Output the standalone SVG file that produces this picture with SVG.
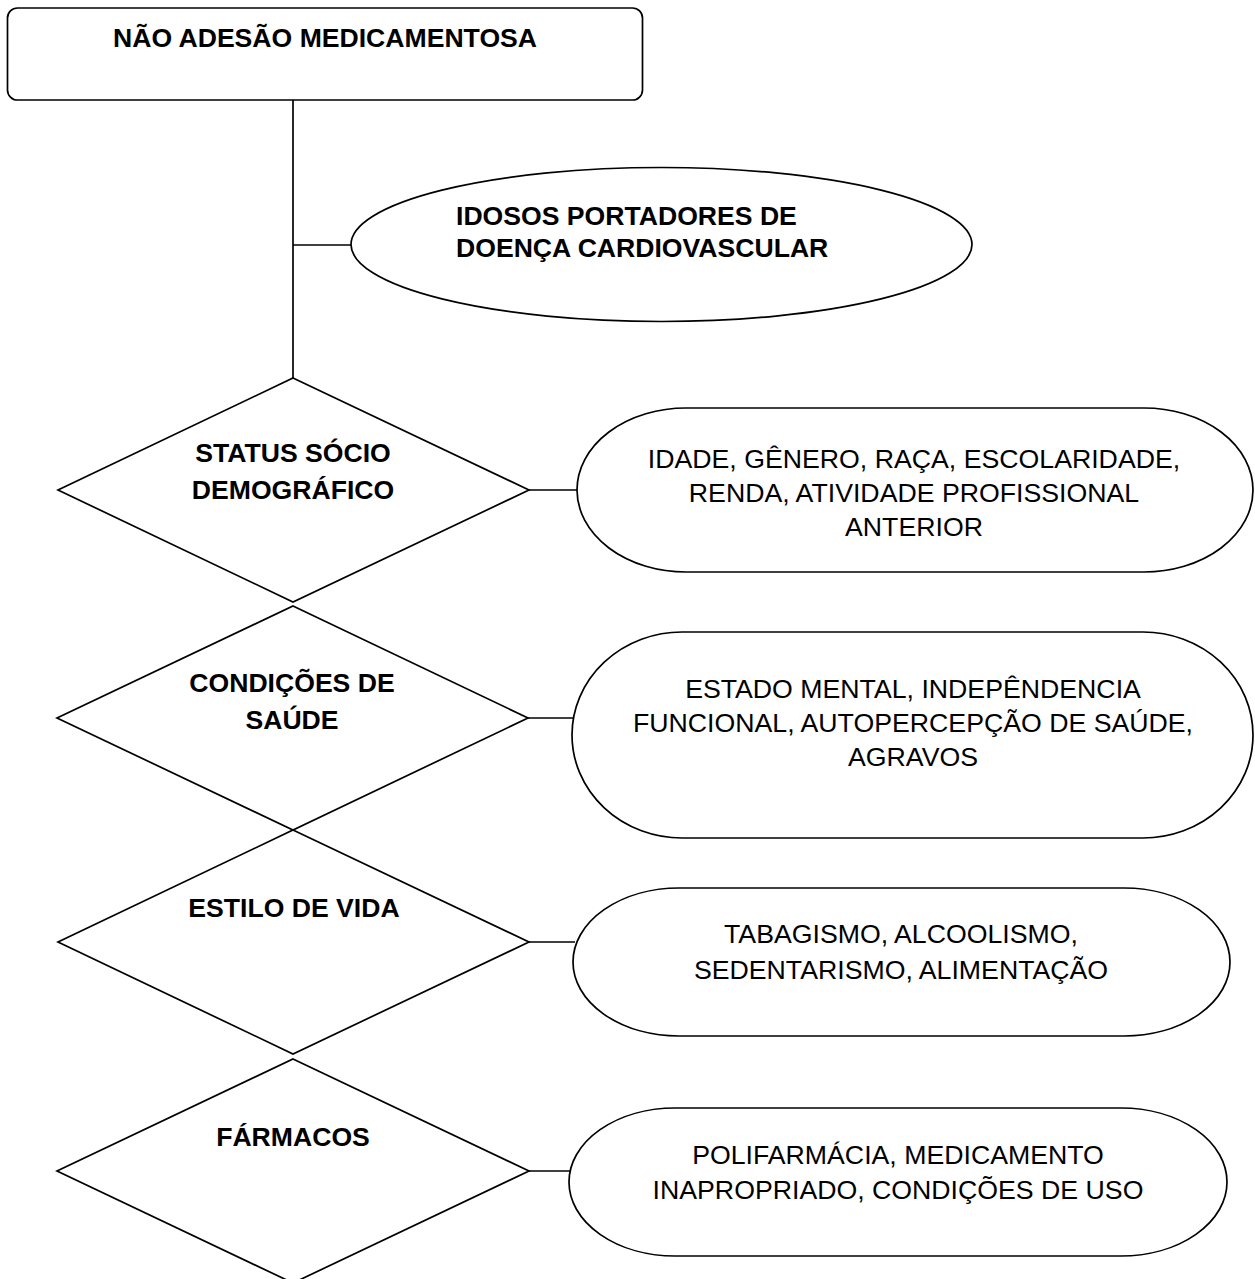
<svg xmlns="http://www.w3.org/2000/svg" width="1255" height="1279" viewBox="0 0 1255 1279">
<style>
.s{fill:#fff;stroke:#000;stroke-width:1.7}
.c{fill:none;stroke:#000;stroke-width:1.7}
.b{font-family:"Liberation Sans",Arial,sans-serif;font-size:26.6px;font-weight:bold;fill:#000}
.n{font-family:"Liberation Sans",Arial,sans-serif;font-size:26.7px;fill:#000;text-anchor:middle}
.m{text-anchor:middle}
</style>
<rect width="1255" height="1279" fill="#fff"/>
<g id="connectors">
<line class="c" x1="293" y1="100" x2="293" y2="378"/>
<line class="c" x1="293" y1="245" x2="351" y2="245"/>
<line class="c" x1="529" y1="490" x2="577" y2="490"/>
<line class="c" x1="528" y1="718" x2="573" y2="718"/>
<line class="c" x1="529" y1="942" x2="575" y2="942"/>
<line class="c" x1="529" y1="1171" x2="571" y2="1171"/>
</g>
<g id="n-nao-adesao">
<rect class="s" x="7.5" y="8" width="635" height="92" rx="10" ry="10"/>
<text class="b m" x="325" y="47">NÃO ADESÃO MEDICAMENTOSA</text>
</g>
<g id="n-idosos">
<ellipse class="s" cx="661.5" cy="244.5" rx="310.5" ry="77"/>
<text class="b" x="456" y="225">IDOSOS PORTADORES DE</text>
<text class="b" x="456" y="257">DOENÇA CARDIOVASCULAR</text>
</g>
<g id="n-status">
<polygon class="s" points="293,378 529,490 293,602 58,490"/>
<text class="b m" x="293" y="462">STATUS SÓCIO</text>
<text class="b m" x="293" y="499">DEMOGRÁFICO</text>
</g>
<g id="n-condicoes">
<polygon class="s" points="293,606 528,718 293,830 57,718"/>
<text class="b m" x="292" y="692">CONDIÇÕES DE</text>
<text class="b m" x="292" y="729">SAÚDE</text>
</g>
<g id="n-estilo">
<polygon class="s" points="293,830 529,942 293,1054 58,942"/>
<text class="b m" x="294" y="917">ESTILO DE VIDA</text>
</g>
<g id="n-farmacos">
<polygon class="s" points="293,1059 529,1171 293,1283 57,1171"/>
<text class="b m" x="293" y="1146">FÁRMACOS</text>
</g>
<g id="n-socio-det">
<rect class="s" x="577" y="408" width="676" height="164" rx="109" ry="82"/>
<text class="n" x="914" y="468">IDADE, GÊNERO, RAÇA, ESCOLARIDADE,</text>
<text class="n" x="914" y="502">RENDA, ATIVIDADE PROFISSIONAL</text>
<text class="n" x="914" y="536">ANTERIOR</text>
</g>
<g id="n-saude-det">
<rect class="s" x="572" y="632" width="681" height="206" rx="110" ry="103"/>
<text class="n" x="913" y="698">ESTADO MENTAL, INDEPÊNDENCIA</text>
<text class="n" x="913" y="732">FUNCIONAL, AUTOPERCEPÇÃO DE SAÚDE,</text>
<text class="n" x="913" y="766">AGRAVOS</text>
</g>
<g id="n-estilo-det">
<rect class="s" x="573" y="888" width="657" height="148" rx="106" ry="74"/>
<text class="n" x="901" y="943">TABAGISMO, ALCOOLISMO,</text>
<text class="n" x="901" y="979">SEDENTARISMO, ALIMENTAÇÃO</text>
</g>
<g id="n-farmacos-det">
<rect class="s" x="569" y="1108" width="658" height="148" rx="106" ry="74"/>
<text class="n" x="898" y="1164">POLIFARMÁCIA, MEDICAMENTO</text>
<text class="n" x="898" y="1199">INAPROPRIADO, CONDIÇÕES DE USO</text>
</g>
</svg>
